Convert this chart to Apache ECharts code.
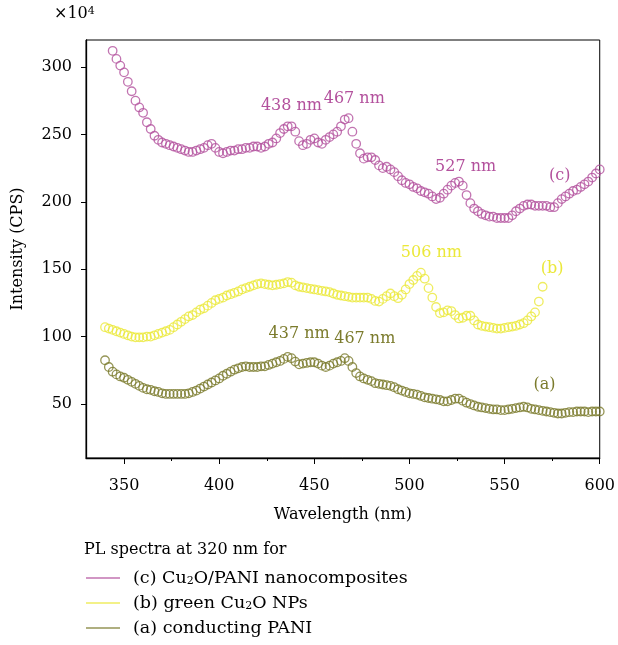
<!DOCTYPE html>
<html>
<head>
<meta charset="utf-8">
<script src="https://cdn.jsdelivr.net/npm/echarts@6/dist/echarts.min.js"></script>
<style>
  html, body { margin: 0; padding: 0; background: #fff; }
  #chart { width: 618px; height: 645px; }
</style>
</head>
<body>
<div id="chart"></div>
<script>
var STEP = 2;

// (c) Cu2O/PANI nanocomposites, from 344 nm
var cStart = 344;
var cValues = [312, 306, 301, 296, 289, 282, 275, 270, 266, 259, 254, 249, 246, 244, 243, 242, 241, 240, 239, 238,
  237, 237, 238, 239, 240, 242, 243, 240, 237, 236, 237, 238, 238, 239, 239, 240, 240, 241, 241, 240,
  241, 243, 244, 247, 251, 254, 256, 256, 252, 245, 242, 243, 246, 247, 244, 243, 246, 248, 250, 252,
  256, 261, 262, 252, 243, 236, 232, 233, 233, 231, 227, 225, 226, 224, 222, 219, 216, 214, 213, 211,
  210, 208, 207, 206, 204, 202, 203, 206, 209, 212, 214, 215, 212, 205, 199, 195, 193, 191, 190, 189,
  189, 188, 188, 188, 188, 190, 193, 195, 197, 198, 198, 197, 197, 197, 197, 196, 196, 199, 202, 204,
  206, 208, 209, 211, 213, 215, 218, 221, 224];

// (b) green Cu2O NPs, from 340 nm
var bStart = 340;
var bValues = [107, 106, 105, 104, 103, 102, 101, 100, 99.5, 99.5, 99.5, 100, 100, 101, 102, 103, 104, 105, 107, 109,
  111, 113, 115, 116, 118, 120, 121, 123, 125, 127, 128, 129, 130.5, 131.5, 132.5, 133.5, 135, 136, 137, 138,
  139, 139.5, 139, 138.5, 138, 138.5, 139, 139.5, 140.5, 140, 138, 137, 136.5, 136, 135.5, 135, 134.5, 134, 133.5, 133,
  132, 131, 130.5, 130, 129.5, 129, 129, 129, 129, 129, 128, 126.5, 126, 128, 130, 132, 130, 128.5, 131, 135,
  139, 142, 145, 147.5, 143, 136, 129, 122, 117.5, 118, 119.5, 119, 116, 113.5, 114, 115.5, 115.5, 112, 109, 108,
  107.5, 107, 106.5, 106, 106, 106.5, 107, 107.5, 108, 109, 110, 112, 115, 118, 126, 137];

// (a) conducting PANI, from 340 nm
var aStart = 340;
var aValues = [82.5, 77.5, 74, 72, 70.5, 69.5, 68, 66.5, 65, 63.5, 62, 61, 60.5, 59.5, 59, 58, 57.5, 57.5, 57.5, 57.5,
  57.5, 57.5, 58, 59, 60, 61.5, 63, 64.5, 66, 67.5, 69, 71, 72.5, 74, 75.5, 76.5, 77.5, 78, 77.5, 77.5,
  77.5, 78, 78, 79, 80, 81, 82, 83.5, 85, 84, 81.5, 79.5, 80, 80.5, 81, 81, 80, 78.5, 77.5, 78.5,
  80, 81, 82, 84, 82, 77.5, 73, 70.5, 69, 68, 67, 65.5, 65, 64.5, 64, 63.5, 62.5, 61, 60, 59,
  58, 57.5, 57, 56, 55, 54.5, 54, 53.5, 53, 52, 52, 53, 54, 54, 52.5, 51, 50, 49, 48, 47.5,
  47, 46.5, 46, 46, 45.5, 45.5, 46, 46.5, 47, 47.5, 48, 47.5, 46.5, 46, 45.5, 45, 44.5, 44, 43.5, 43,
  43, 43.5, 44, 44, 44.5, 44.5, 44.5, 44, 44.5, 44.5, 44.5];

// axis ticks
var xMajorTicks = [350, 400, 450, 500, 550, 600];
var xMinorTicks = [375, 425, 475, 525, 575];
var yTicks = [50, 100, 150, 200, 250, 300];

// peak annotations: [wavelength, intensity, text] (text centre in data units)
var cNotes = [[438, 271, '438 nm'], [471, 276, '467 nm'], [529.5, 226, '527 nm'], [579, 219, '(c)']];
var bNotes = [[511.5, 162, '506 nm'], [575, 150.5, '(b)']];
var aNotes = [[442, 102, '437 nm'], [476.5, 98, '467 nm'], [571, 64, '(a)']];

var COL_C = '#b3519d', COL_B = '#ebe83a', COL_A = '#7b7b2c';
var FONT = 'DejaVu Serif';
var FS = 16;

function toPairs(start, vals) {
  return vals.map(function (v, i) { return [start + i * STEP, v]; });
}

function notes(list, color) {
  return {
    symbol: 'circle',
    symbolSize: 1,
    silent: true,
    itemStyle: { color: 'rgba(0,0,0,0)', borderWidth: 0 },
    label: { show: true, position: 'inside', color: color, fontFamily: FONT, fontSize: FS },
    data: list.map(function (n) {
      return { coord: [n[0], n[1]], value: n[2], label: { formatter: n[2] } };
    })
  };
}

function spectrum(name, start, vals, color, list) {
  return {
    name: name,
    type: 'scatter',
    symbol: 'circle',
    symbolSize: 8.5,
    itemStyle: { color: 'rgba(0,0,0,0)', borderColor: color, borderWidth: 1.3 },
    data: toPairs(start, vals),
    markPoint: notes(list, color),
    animation: false
  };
}

var legendText = {
  c: '(c) Cu{sub|2}O/PANI nanocomposites',
  b: '(b) green Cu{sub|2}O NPs',
  a: '(a) conducting PANI'
};

function legendItem(name, color) {
  return { name: name, itemStyle: { color: color, borderWidth: 0 } };
}

var chart = echarts.init(document.getElementById('chart'));
chart.setOption({
  animation: false,
  textStyle: { fontFamily: FONT },
  grid: { left: 86, right: 15, top: 40, bottom: 187, show: true, borderColor: '#000', borderWidth: 1 },
  xAxis: [{
    type: 'value', min: 330, max: 600,
    name: 'Wavelength (nm)', nameLocation: 'middle', nameGap: 49,
    nameTextStyle: { color: '#000', fontSize: FS, fontFamily: FONT },
    axisLine: { lineStyle: { color: '#000', width: 1.3 } },
    axisTick: { customValues: xMajorTicks, length: 6, lineStyle: { color: '#000' } },
    axisLabel: { customValues: xMajorTicks, color: '#000', fontSize: FS, fontFamily: FONT, margin: 20 },
    splitLine: { show: false }
  }, {
    type: 'value', min: 330, max: 600, position: 'bottom',
    axisLine: { show: false },
    axisTick: { customValues: xMinorTicks, length: 3, lineStyle: { color: '#000' } },
    axisLabel: { show: false },
    splitLine: { show: false }
  }],
  yAxis: {
    type: 'value', min: 10, max: 320,
    name: 'Intensity (CPS)', nameLocation: 'middle', nameGap: 60,
    nameTextStyle: { color: '#000', fontSize: FS, fontFamily: FONT },
    axisLine: { show: true, lineStyle: { color: '#000', width: 1.3 } },
    axisTick: { show: true, customValues: yTicks, length: 5, lineStyle: { color: '#000' } },
    axisLabel: { customValues: yTicks, color: '#000', fontSize: FS, fontFamily: FONT, margin: 14 },
    splitLine: { show: false }
  },
  legend: {
    orient: 'vertical', left: 86, top: 569, height: 90, padding: 0,
    itemWidth: 34, itemHeight: 1.5, itemGap: 7, icon: 'rect',
    data: [legendItem('c', COL_C), legendItem('b', COL_B), legendItem('a', COL_A)],
    formatter: function (n) { return legendText[n]; },
    textStyle: {
      color: '#000', fontSize: 17.5, fontFamily: FONT, padding: [0, 0, 0, 8],
      rich: { sub: { fontSize: 11, fontFamily: FONT, color: '#000', verticalAlign: 'bottom', lineHeight: 11 } }
    }
  },
  graphic: [{
    type: 'text', left: 84, top: 542,
    style: { text: 'PL spectra at 320 nm for', fill: '#000', font: FS + 'px "DejaVu Serif"' }
  }, {
    type: 'text', left: 54, top: 6,
    style: {
      text: '×10{sup|4}', fill: '#000', font: FS + 'px "DejaVu Serif"',
      rich: { sup: { fontSize: 11, fontFamily: FONT, fill: '#000', verticalAlign: 'top', lineHeight: 11 } }
    }
  }],
  series: [
    spectrum('a', aStart, aValues, COL_A, aNotes),
    spectrum('b', bStart, bValues, COL_B, bNotes),
    spectrum('c', cStart, cValues, COL_C, cNotes)
  ]
});
</script>
</body>
</html>
